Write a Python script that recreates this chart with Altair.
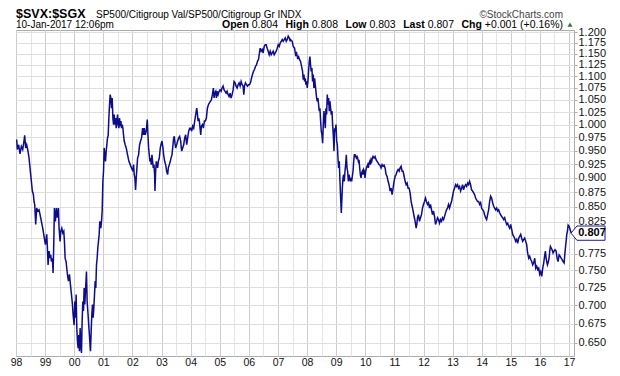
import altair as alt
import pandas as pd

# ---- data (decimal year, ratio) ----
years = [
    1998.023, 1998.046, 1998.092, 1998.138, 1998.184, 1998.230, 1998.275, 1998.298, 1998.333, 1998.367,
    1998.413, 1998.448, 1998.482, 1998.528, 1998.562, 1998.597, 1998.620, 1998.643, 1998.677, 1998.711,
    1998.757, 1998.792, 1998.826, 1998.872, 1998.918, 1998.964, 1999.010, 1999.056, 1999.079, 1999.102,
    1999.136, 1999.171, 1999.193, 1999.216, 1999.251, 1999.274, 1999.297, 1999.320, 1999.354, 1999.389,
    1999.423, 1999.458, 1999.480, 1999.515, 1999.538, 1999.572, 1999.607, 1999.641, 1999.664, 1999.687,
    1999.721, 1999.744, 1999.767, 1999.802, 1999.836, 1999.870, 1999.905, 1999.939, 1999.962, 1999.997,
    2000.020, 2000.043, 2000.066, 2000.089, 2000.111, 2000.134, 2000.157, 2000.180, 2000.203, 2000.226,
    2000.249, 2000.272, 2000.295, 2000.318, 2000.341, 2000.364, 2000.398, 2000.421, 2000.444, 2000.467,
    2000.490, 2000.513, 2000.536, 2000.559, 2000.582, 2000.605, 2000.628, 2000.651, 2000.674, 2000.697,
    2000.720, 2000.742, 2000.765, 2000.788, 2000.811, 2000.834, 2000.857, 2000.880, 2000.915, 2000.938,
    2000.961, 2000.984, 2001.007, 2001.029, 2001.052, 2001.075, 2001.098, 2001.121, 2001.144, 2001.167,
    2001.190, 2001.213, 2001.236, 2001.259, 2001.282, 2001.305, 2001.328, 2001.351, 2001.374, 2001.397,
    2001.420, 2001.443, 2001.466, 2001.489, 2001.511, 2001.534, 2001.557, 2001.580, 2001.603, 2001.626,
    2001.649, 2001.672, 2001.695, 2001.718, 2001.752, 2001.787, 2001.833, 2001.879, 2001.924, 2001.970,
    2002.016, 2002.039, 2002.062, 2002.085, 2002.108, 2002.131, 2002.154, 2002.177, 2002.211, 2002.246,
    2002.280, 2002.315, 2002.349, 2002.384, 2002.406, 2002.441, 2002.475, 2002.510, 2002.533, 2002.556,
    2002.579, 2002.601, 2002.624, 2002.647, 2002.670, 2002.693, 2002.716, 2002.739, 2002.762, 2002.774,
    2002.797, 2002.820, 2002.843, 2002.866, 2002.889, 2002.923, 2002.957, 2002.980, 2003.015, 2003.049,
    2003.072, 2003.107, 2003.141, 2003.175, 2003.210, 2003.233, 2003.267, 2003.302, 2003.325, 2003.359,
    2003.393, 2003.416, 2003.439, 2003.462, 2003.485, 2003.520, 2003.554, 2003.589, 2003.623, 2003.657,
    2003.692, 2003.726, 2003.761, 2003.795, 2003.829, 2003.864, 2003.898, 2003.933, 2003.967, 2004.002,
    2004.036, 2004.070, 2004.105, 2004.139, 2004.174, 2004.208, 2004.231, 2004.254, 2004.277, 2004.300,
    2004.323, 2004.346, 2004.369, 2004.403, 2004.438, 2004.472, 2004.506, 2004.541, 2004.575, 2004.610,
    2004.644, 2004.679, 2004.713, 2004.747, 2004.782, 2004.805, 2004.828, 2004.862, 2004.885, 2004.908,
    2004.943, 2004.977, 2005.011, 2005.046, 2005.080, 2005.115, 2005.149, 2005.184, 2005.218, 2005.252,
    2005.287, 2005.321, 2005.356, 2005.390, 2005.424, 2005.459, 2005.493, 2005.528, 2005.562, 2005.596,
    2005.631, 2005.665, 2005.700, 2005.734, 2005.769, 2005.803, 2005.826, 2005.849, 2005.883, 2005.918,
    2005.952, 2005.987, 2006.021, 2006.055, 2006.090, 2006.124, 2006.159, 2006.193, 2006.228, 2006.262,
    2006.296, 2006.331, 2006.354, 2006.388, 2006.423, 2006.457, 2006.492, 2006.526, 2006.561, 2006.595,
    2006.629, 2006.664, 2006.698, 2006.733, 2006.767, 2006.802, 2006.836, 2006.870, 2006.905, 2006.939,
    2006.974, 2007.008, 2007.043, 2007.077, 2007.111, 2007.146, 2007.180, 2007.215, 2007.249, 2007.284,
    2007.318, 2007.352, 2007.387, 2007.421,
    2007.432, 2007.489, 2007.524, 2007.570, 2007.604, 2007.639, 2007.673, 2007.707, 2007.742, 2007.776,
    2007.811, 2007.845, 2007.868, 2007.891, 2007.914, 2007.937, 2007.960, 2007.983, 2008.006, 2008.029,
    2008.052, 2008.075, 2008.098, 2008.120, 2008.143, 2008.166, 2008.189, 2008.212, 2008.235, 2008.258,
    2008.281, 2008.304, 2008.327, 2008.350, 2008.373, 2008.396, 2008.419, 2008.442, 2008.465, 2008.488,
    2008.511, 2008.534, 2008.557, 2008.580, 2008.603, 2008.626, 2008.648, 2008.671, 2008.694, 2008.717,
    2008.740, 2008.763, 2008.786, 2008.809, 2008.832, 2008.855, 2008.878, 2008.901, 2008.924, 2008.947,
    2008.970, 2008.993, 2009.016, 2009.039, 2009.061, 2009.084, 2009.107, 2009.130, 2009.153, 2009.176,
    2009.188, 2009.211, 2009.234, 2009.256, 2009.279, 2009.302, 2009.325, 2009.348, 2009.371, 2009.394,
    2009.417, 2009.440, 2009.463, 2009.486, 2009.509, 2009.532, 2009.555, 2009.578, 2009.601, 2009.624,
    2009.647, 2009.670, 2009.693, 2009.716, 2009.738, 2009.761, 2009.784, 2009.807, 2009.830, 2009.853,
    2009.876, 2009.899, 2009.922, 2009.945, 2009.968, 2009.991, 2010.014, 2010.037, 2010.060, 2010.083,
    2010.106, 2010.129, 2010.152, 2010.175, 2010.198, 2010.221, 2010.243, 2010.266, 2010.301, 2010.335,
    2010.370, 2010.404, 2010.439, 2010.473, 2010.507, 2010.542, 2010.576, 2010.611, 2010.645, 2010.680,
    2010.714, 2010.748, 2010.783, 2010.817, 2010.852, 2010.886, 2010.921, 2010.955, 2010.989, 2011.024,
    2011.058, 2011.093, 2011.127, 2011.162, 2011.196, 2011.230, 2011.265, 2011.299, 2011.334, 2011.368,
    2011.403, 2011.437, 2011.471, 2011.506, 2011.540, 2011.575, 2011.609, 2011.643, 2011.678, 2011.712,
    2011.747, 2011.770, 2011.793, 2011.827, 2011.861, 2011.896, 2011.930, 2011.965, 2011.999, 2012.034,
    2012.068, 2012.102, 2012.137, 2012.171, 2012.206, 2012.240, 2012.275, 2012.309, 2012.343, 2012.378,
    2012.412, 2012.447, 2012.481, 2012.516, 2012.550, 2012.584, 2012.619, 2012.653, 2012.688, 2012.722,
    2012.757, 2012.791, 2012.825, 2012.860, 2012.894, 2012.929, 2012.963, 2012.998, 2013.032, 2013.066,
    2013.101, 2013.135, 2013.170, 2013.204, 2013.239, 2013.273, 2013.307, 2013.342, 2013.376, 2013.411,
    2013.445, 2013.480, 2013.514, 2013.548, 2013.583, 2013.617, 2013.652, 2013.686, 2013.721, 2013.755,
    2013.789, 2013.824, 2013.858, 2013.893, 2013.927, 2013.962, 2013.996, 2014.030, 2014.065, 2014.099,
    2014.134, 2014.168, 2014.203, 2014.237, 2014.271, 2014.306, 2014.340, 2014.375, 2014.409, 2014.444,
    2014.478, 2014.512, 2014.547, 2014.581, 2014.616, 2014.650, 2014.685, 2014.719, 2014.753, 2014.788,
    2014.822, 2014.857, 2014.891, 2014.925, 2014.960, 2014.994, 2015.029, 2015.063, 2015.098, 2015.132,
    2015.166, 2015.201, 2015.235, 2015.270, 2015.304, 2015.339, 2015.373, 2015.407, 2015.442, 2015.476,
    2015.511, 2015.545, 2015.568, 2015.591, 2015.614, 2015.648, 2015.683, 2015.717, 2015.752, 2015.786,
    2015.821, 2015.855, 2015.889, 2015.924, 2015.958, 2015.993, 2016.027, 2016.062, 2016.096, 2016.130,
    2016.165, 2016.188, 2016.211, 2016.234, 2016.257, 2016.280, 2016.314, 2016.337, 2016.360, 2016.383,
    2016.417, 2016.452, 2016.486, 2016.521, 2016.555, 2016.589, 2016.624, 2016.658, 2016.693, 2016.727,
    2016.762, 2016.796, 2016.830, 2016.853, 2016.876, 2016.899, 2016.922, 2016.945, 2016.968, 2017.003,
    2017.037, 2017.072,
]

ratio = [
    0.971, 0.952, 0.961, 0.944, 0.958, 0.952, 0.968, 0.979, 0.955, 0.961,
    0.949, 0.936, 0.918, 0.894, 0.877, 0.871, 0.859, 0.854, 0.821, 0.848,
    0.843, 0.845, 0.837, 0.826, 0.815, 0.802, 0.789, 0.805, 0.784, 0.758,
    0.779, 0.768, 0.773, 0.763, 0.768, 0.746, 0.789, 0.848, 0.826, 0.848,
    0.832, 0.848, 0.815, 0.794, 0.810, 0.815, 0.807, 0.810, 0.794, 0.768,
    0.763, 0.753, 0.744, 0.734, 0.744, 0.729, 0.715, 0.701, 0.687, 0.673,
    0.705, 0.683, 0.715, 0.669, 0.652, 0.643, 0.660, 0.639, 0.669, 0.647,
    0.637, 0.678, 0.705, 0.692, 0.724, 0.701, 0.729, 0.748, 0.705, 0.692,
    0.678, 0.665, 0.652, 0.639, 0.665, 0.687, 0.701, 0.683, 0.696, 0.715,
    0.734, 0.724, 0.758, 0.768, 0.784, 0.794, 0.805, 0.826, 0.815, 0.826,
    0.843, 0.894, 0.912, 0.955, 0.942, 0.930, 0.949, 0.961, 0.974, 0.979,
    1.013, 1.040, 1.061, 1.054, 1.033, 1.054, 1.013, 1.000, 1.020, 1.000,
    1.013, 0.993, 1.007, 1.020, 1.000, 0.993, 1.013, 0.997, 1.007, 0.993,
    1.000, 0.993, 0.980, 0.968, 0.961, 0.955, 0.942, 0.930, 0.924, 0.918,
    0.912, 0.924, 0.906, 0.900, 0.879, 0.900, 0.918, 0.936, 0.942, 0.961,
    0.968, 0.974, 0.993, 0.980, 0.993, 0.980, 0.987, 1.010, 0.980, 0.955,
    0.942, 0.930, 0.936, 0.924, 0.942, 0.930, 0.918, 0.924, 0.906, 0.877,
    0.912, 0.930, 0.924, 0.918, 0.930, 0.936, 0.955, 0.961, 0.968, 0.955,
    0.942, 0.930, 0.924, 0.912, 0.906, 0.918, 0.924, 0.930, 0.936, 0.942,
    0.961, 0.974, 0.977, 0.964, 0.955, 0.961, 0.968, 0.974, 0.977, 0.968,
    0.949, 0.955, 0.961, 0.974, 0.980, 0.961, 0.974, 0.987, 0.993, 0.993,
    0.987, 0.997, 0.993, 1.007, 1.020, 1.033, 1.023, 1.007, 1.013, 1.007,
    0.993, 0.980, 0.997, 1.000, 0.993, 1.007, 1.007, 1.013, 1.033, 1.040,
    1.044, 1.047, 1.050, 1.061, 1.075, 1.054, 1.064, 1.068, 1.054, 1.068,
    1.061, 1.068, 1.071, 1.068, 1.075, 1.079, 1.071, 1.068, 1.064, 1.068,
    1.061, 1.057, 1.064, 1.054, 1.061, 1.071, 1.089, 1.086, 1.079, 1.075,
    1.082, 1.086, 1.079, 1.089, 1.082, 1.079, 1.061, 1.079, 1.086, 1.082,
    1.079, 1.082, 1.082, 1.086, 1.096, 1.104, 1.111, 1.115, 1.122, 1.125,
    1.133, 1.137, 1.148, 1.163, 1.156, 1.160, 1.152, 1.167, 1.171, 1.171,
    1.163, 1.156, 1.148, 1.156, 1.148, 1.152, 1.156, 1.148, 1.152, 1.156,
    1.163, 1.171, 1.167, 1.175, 1.179, 1.183, 1.179, 1.183, 1.187, 1.179,
    1.183, 1.191, 1.187, 1.179,
    1.183, 1.179, 1.167, 1.163, 1.148, 1.152, 1.141, 1.144, 1.137, 1.133,
    1.122, 1.111, 1.093, 1.104, 1.089, 1.096, 1.082, 1.089, 1.075, 1.089,
    1.111, 1.133, 1.144, 1.125, 1.111, 1.118, 1.089, 1.104, 1.075, 1.096,
    1.082, 1.068, 1.054, 1.047, 1.054, 1.040, 1.027, 1.033, 1.007, 0.987,
    0.980, 0.964, 1.000, 1.027, 1.013, 0.993, 1.033, 1.020, 1.061, 1.040,
    1.054, 1.027, 1.047, 1.033, 1.020, 1.027, 1.000, 0.980, 0.949, 0.993,
    0.987, 1.000, 0.968, 0.961, 0.936, 0.918, 0.930, 0.894, 0.865, 0.840,
    0.854, 0.882, 0.900, 0.906, 0.894, 0.912, 0.924, 0.942, 0.918, 0.912,
    0.894, 0.906, 0.900, 0.894, 0.900, 0.894, 0.903, 0.912, 0.930, 0.942,
    0.942, 0.939, 0.936, 0.939, 0.936, 0.930, 0.933, 0.918, 0.906, 0.900,
    0.909, 0.912, 0.906, 0.915, 0.912, 0.900, 0.912, 0.918, 0.921, 0.924,
    0.918, 0.927, 0.930, 0.924, 0.933, 0.930, 0.936, 0.939, 0.936, 0.939,
    0.933, 0.930, 0.927, 0.924, 0.923, 0.918, 0.924, 0.921, 0.923, 0.918,
    0.906, 0.903, 0.894, 0.888, 0.877, 0.882, 0.871, 0.882, 0.894, 0.903,
    0.906, 0.912, 0.915, 0.912, 0.918, 0.921, 0.912, 0.912, 0.903, 0.894,
    0.888, 0.891, 0.882, 0.882, 0.874, 0.859, 0.851, 0.843, 0.834, 0.826,
    0.815, 0.821, 0.832, 0.837, 0.826, 0.832, 0.837, 0.848, 0.854, 0.859,
    0.865, 0.859, 0.854, 0.857, 0.848, 0.854, 0.845, 0.837, 0.843, 0.834,
    0.821, 0.826, 0.832, 0.829, 0.823, 0.829, 0.826, 0.832, 0.829, 0.834,
    0.840, 0.845, 0.848, 0.854, 0.848, 0.854, 0.859, 0.868, 0.877, 0.882,
    0.888, 0.885, 0.888, 0.882, 0.885, 0.877, 0.882, 0.888, 0.879, 0.885,
    0.888, 0.885, 0.891, 0.888, 0.894, 0.888, 0.879, 0.877, 0.874, 0.871,
    0.865, 0.862, 0.859, 0.859, 0.854, 0.857, 0.848, 0.845, 0.843, 0.837,
    0.832, 0.829, 0.837, 0.845, 0.859, 0.868, 0.865, 0.857, 0.851, 0.848,
    0.845, 0.848, 0.843, 0.845, 0.840, 0.837, 0.834, 0.832, 0.829, 0.832,
    0.826, 0.821, 0.823, 0.818, 0.815, 0.821, 0.813, 0.805, 0.802, 0.799,
    0.794, 0.797, 0.791, 0.799, 0.802, 0.805, 0.799, 0.794, 0.797, 0.799,
    0.794, 0.789, 0.779, 0.773, 0.768, 0.771, 0.766, 0.763, 0.758, 0.761,
    0.768, 0.753, 0.756, 0.751, 0.753, 0.744, 0.748, 0.741, 0.753, 0.761,
    0.773, 0.779, 0.768, 0.763, 0.758, 0.761, 0.768, 0.779, 0.786, 0.784,
    0.781, 0.776, 0.779, 0.781, 0.779, 0.768, 0.763, 0.773, 0.771, 0.768,
    0.766, 0.763, 0.761, 0.773, 0.784, 0.794, 0.805, 0.810, 0.820, 0.818,
    0.813, 0.807,
]

year_ticks = list(range(1998, 2018))
y_ticks = [0.650, 0.675, 0.700, 0.725, 0.750, 0.775, 0.800, 0.825, 0.850, 0.875, 0.900, 0.925,
           0.950, 0.975, 1.000, 1.025, 1.050, 1.075, 1.100, 1.125, 1.150, 1.175, 1.200]
last_value = 0.807

title_main = "$SVX:$SGX"
title_sub = "SP500/Citigroup Val/SP500/Citigroup Gr  INDX"
credit = "\u00a9StockCharts.com"
stamp = "10-Jan-2017 12:06pm"
quote_labels = ["Open", "High", "Low", "Last", "Chg"]
quote_values = ["0.804", "0.808", "0.803", "0.807", "+0.001 (+0.16%)"]

# ---- chart ----
FONT = "Liberation Sans"
X_DOMAIN = [1998.0, 2017.17]
Y_DOMAIN = [0.6331, 1.2055]
L1 = -12.4   # baseline of header line 1 (relative to plot top)
L2 = -1.9    # baseline of header line 2

x_grid = sorted(year_ticks + [y + 0.5 for y in year_ticks[:-1]])

df = pd.DataFrame({"year": years, "ratio": ratio})

xs = alt.Scale(domain=X_DOMAIN, nice=False, zero=False)
ys = alt.Scale(type="log", domain=Y_DOMAIN, nice=False, zero=False)

x_axis = alt.Axis(
    values=x_grid,
    labelExpr="datum.value % 1 === 0 ? slice(toString(datum.value), 2) : ''",
    title=None, ticks=False, domain=False, labelPadding=1, labelFlush=False,
    labelOverlap=False, labelFont=FONT, labelFontSize=10.5, labelColor="#111",
    grid=True,
    gridColor=alt.condition("datum.value % 1 === 0", alt.value("#cdcdcd"), alt.value("#e4e4e4")),
)
y_axis = alt.Axis(
    orient="right", values=y_ticks, title=None, domain=False,
    labelExpr="format(datum.value, '.3f') === '0.800' ? '' : format(datum.value, '.3f')",
    tickSize=3, tickColor="#aaaaaa", labelPadding=1, labelFont=FONT, labelFontSize=11,
    labelColor="#111", labelOverlap=False, grid=True, gridColor="#dedede",
)

line = alt.Chart(df).mark_line(color="#0d0d8c", strokeWidth=1.5, clip=True).encode(
    x=alt.X("year:Q", scale=xs, axis=x_axis),
    y=alt.Y("ratio:Q", scale=ys, axis=y_axis),
)


def text(s, x, y, size=10.5, weight="normal", color="#000", align="left"):
    return alt.Chart(pd.DataFrame({"t": [s]})).mark_text(
        align=align, baseline="alphabetic", font=FONT, fontSize=size,
        fontWeight=weight, color=color,
    ).encode(x=alt.value(x), y=alt.value(y), text="t:N")


header = [
    text(title_main, 0, L1, size=12.5, weight="bold"),
    text(title_sub, 80, L1, size=10),
    text(credit, 547, L1, size=10, color="#444", align="right"),
    text(stamp, 0, L2, size=10),
]
qx_lab = [206, 269.5, 329.5, 387.2, 445.5]
qx_val = [235.7, 295.7, 353.4, 411.7, 468.8]
for lab, val, xl, xv in zip(quote_labels, quote_values, qx_lab, qx_val):
    header.append(text(lab, xl, L2, size=10.5, weight="bold"))
    header.append(text(val, xv, L2, size=10.5))

arrow = alt.Chart(pd.DataFrame({"t": [1]})).mark_point(
    shape="triangle-up", filled=True, color="#2f7d2f", size=26, opacity=1
).encode(x=alt.value(554), y=alt.value(L2 - 3.5))

last_df = pd.DataFrame({"year": [X_DOMAIN[1]], "ratio": [last_value], "t": [f"{last_value:.3f}"]})
box = alt.Chart(last_df).mark_point(
    shape="M-1,0L-0.65,-0.42L1,-0.42L1,0.42L-0.65,0.42Z",
    size=1156, filled=True, fill="white", stroke="#1a1a8c", strokeWidth=1, opacity=1,
).encode(x=alt.value(572), y=alt.Y("ratio:Q", scale=ys))
box_text = alt.Chart(last_df).mark_text(
    align="center", baseline="middle", font=FONT, fontSize=11, fontWeight="bold", color="#000"
).encode(x=alt.value(576), y=alt.Y("ratio:Q", scale=ys), text="t:N")

chart = alt.layer(line, box, box_text, arrow, *header).properties(
    width=558, height=326, background="white",
    autosize=alt.AutoSizeParams(type="none"),
    padding={"left": 8, "top": 22, "right": 38, "bottom": 12},
).configure_view(stroke="#ababab", strokeWidth=1)

chart.save("out.html", embed_options={"renderer": "svg", "actions": False})
